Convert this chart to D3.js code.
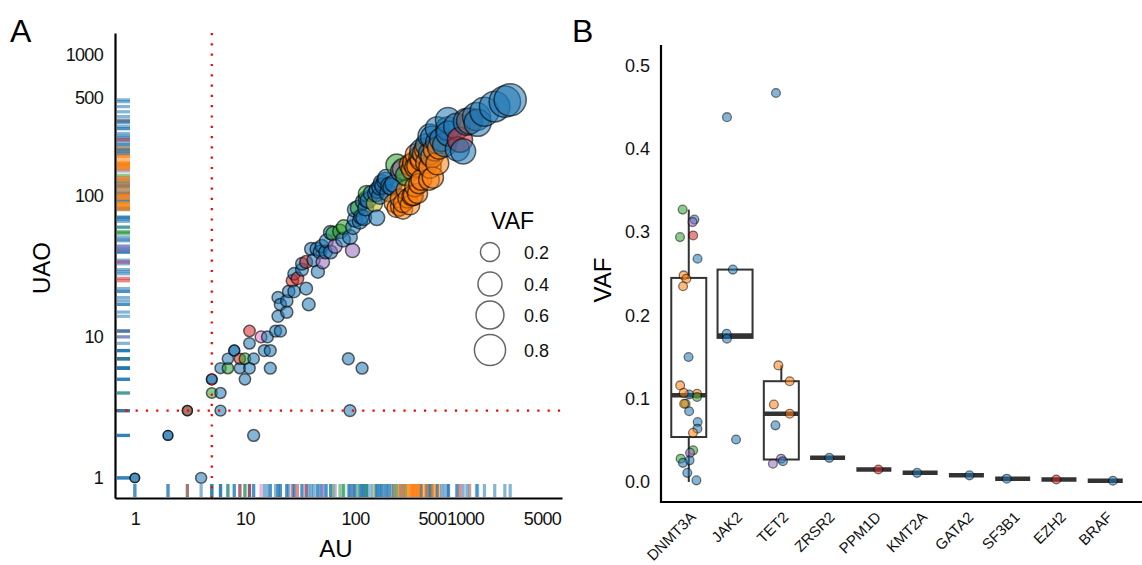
<!DOCTYPE html>
<html>
<head>
<meta charset="utf-8">
<script src="https://cdn.jsdelivr.net/npm/d3@7"></script>
<style>
  html, body { margin: 0; padding: 0; background: #fff; }
  svg { display: block; font-family: "Liberation Sans", Arial, Helvetica, sans-serif; }
</style>
</head>
<body>
<svg id="chart" width="1142" height="565"></svg>
<script>
// ---------- Panel A: allele read counts per variant ----------
// AU = alternate reads, UAO = unique alternate observations, VAF = allele fraction
const auValues = [
  1, 1, 2, 2, 3, 3, 4, 5, 5, 5,
  6, 6, 6, 7, 7, 8, 8, 9, 9, 10,
  10, 11, 11, 11, 12, 12, 14, 15, 16, 17,
  17, 19, 20, 20, 21, 21, 24, 24, 25, 27,
  28, 28, 30, 33, 33, 36, 36, 38, 40, 42,
  45, 46, 48, 50, 51, 54, 55, 60, 60, 63,
  66, 73, 78, 79, 87, 90, 90, 95, 96, 100,
  100, 107, 111, 114, 116, 119, 120, 125, 127, 127,
  132, 142, 150, 155, 158, 160, 168, 169, 175, 180,
  188, 193, 200, 205, 215, 223, 225, 238, 239, 255,
  255, 260, 273, 273, 273, 290, 290, 300, 316, 316,
  330, 330, 339, 339, 350, 355, 360, 370, 370, 380,
  390, 400, 400, 400, 420, 440, 450, 450, 470, 480,
  480, 480, 500, 500, 510, 531, 560, 560, 560, 580,
  613, 650, 700, 700, 708, 840, 850, 900, 960, 1040,
  1100, 1270, 1300, 1500, 1860, 2300, 2570
];
const uaoValues = [
  1, 1, 2, 2, 3, 3, 1, 4, 5, 5,
  3, 4, 6, 6, 7, 8, 8, 6, 7, 5,
  7, 6, 9, 11, 2, 7, 10, 8, 10, 6,
  8, 11, 14, 19, 11, 17, 15, 18, 21, 25,
  21, 28, 26, 30, 33, 22, 34, 17, 42, 35,
  42, 29, 40, 44, 34, 40, 48, 40, 55, 54,
  44, 56, 49, 60, 7, 3, 51, 41, 60, 68,
  80, 82, 66, 71, 6, 91, 70, 82, 95, 104,
  93, 104, 88, 104, 70, 110, 100, 116, 124, 118,
  128, 134, 105, 118, 116, 89, 122, 82, 166, 84,
  96, 150, 80, 89, 155, 110, 140, 96, 86, 166,
  100, 155, 101, 171, 116, 160, 196, 104, 163, 122,
  190, 130, 180, 210, 200, 215, 172, 230, 130, 160,
  200, 266, 190, 260, 135, 213, 170, 240, 300, 220,
  251, 230, 300, 345, 277, 311, 215, 250, 207, 336,
  340, 365, 330, 395, 430, 466, 480
];
const vafValues = [
  0.003, 0.003, 0.004, 0.004, 0.006, 0.006, 0.012, 0.010, 0.010, 0.010,
  0.012, 0.012, 0.012, 0.014, 0.014, 0.012, 0.012, 0.014, 0.014, 0.015,
  0.016, 0.016, 0.016, 0.016, 0.020, 0.016, 0.018, 0.020, 0.020, 0.020,
  0.020, 0.020, 0.022, 0.022, 0.022, 0.022, 0.024, 0.024, 0.025, 0.026,
  0.026, 0.028, 0.028, 0.030, 0.030, 0.030, 0.032, 0.030, 0.035, 0.035,
  0.040, 0.035, 0.040, 0.040, 0.040, 0.040, 0.045, 0.045, 0.050, 0.050,
  0.050, 0.055, 0.060, 0.060, 0.020, 0.020, 0.060, 0.050, 0.060, 0.070,
  0.070, 0.080, 0.070, 0.070, 0.020, 0.080, 0.080, 0.080, 0.090, 0.090,
  0.090, 0.100, 0.090, 0.100, 0.080, 0.100, 0.100, 0.100, 0.100, 0.100,
  0.110, 0.120, 0.110, 0.110, 0.120, 0.150, 0.120, 0.160, 0.250, 0.150,
  0.160, 0.200, 0.170, 0.170, 0.240, 0.180, 0.220, 0.170, 0.180, 0.240,
  0.200, 0.250, 0.200, 0.250, 0.200, 0.250, 0.260, 0.200, 0.250, 0.200,
  0.270, 0.220, 0.260, 0.300, 0.280, 0.300, 0.280, 0.300, 0.220, 0.280,
  0.300, 0.350, 0.280, 0.300, 0.240, 0.300, 0.300, 0.320, 0.350, 0.300,
  0.350, 0.340, 0.350, 0.400, 0.400, 0.450, 0.350, 0.400, 0.400, 0.500,
  0.450, 0.550, 0.500, 0.600, 0.700, 0.750, 0.800
];
// colour group of each variant (index into the palette)
const groupA = [
  0, 0, 0, 0, 5, 5, 0, 2, 0, 0,
  0, 0, 0, 2, 0, 0, 0, 0, 3, 0,
  2, 0, 0, 3, 0, 0, 6, 0, 0, 0,
  0, 0, 0, 0, 0, 0, 0, 0, 0, 3,
  0, 0, 3, 0, 0, 0, 3, 0, 0, 0,
  0, 0, 0, 0, 4, 0, 0, 0, 0, 2,
  4, 2, 0, 2, 0, 0, 0, 4, 0, 0,
  0, 2, 0, 0, 0, 0, 0, 0, 0, 2,
  0, 0, 8, 0, 0, 0, 0, 0, 0, 0,
  0, 0, 0, 0, 0, 1, 0, 1, 2, 1,
  1, 4, 1, 1, 7, 1, 2, 1, 1, 1,
  1, 1, 1, 1, 1, 1, 1, 1, 1, 1,
  1, 1, 1, 0, 1, 1, 1, 0, 1, 1,
  0, 0, 1, 0, 1, 1, 1, 0, 0, 1,
  0, 0, 0, 0, 0, 0, 0, 3, 0, 0,
  5, 0, 0, 0, 0, 0, 0
];
const auTicks = [1, 10, 100, 500, 1000, 5000];
const uaoTicks = [1, 10, 100, 500, 1000];
const auCutoff = 5;
const uaoCutoff = 3;
const legendVaf = [0.2, 0.4, 0.6, 0.8];

// ---------- Panel B: VAF per gene ----------
const genes = ["DNMT3A", "JAK2", "TET2", "ZRSR2", "PPM1D", "KMT2A", "GATA2", "SF3B1", "EZH2", "BRAF"];
const boxLower = [0.000, 0.173, 0.027, 0.029, 0.015, 0.011, 0.008, 0.004, 0.003, 0.0015];
const boxQ1    = [0.054, 0.173, 0.027, 0.029, 0.015, 0.011, 0.008, 0.004, 0.003, 0.0015];
const boxMed   = [0.104, 0.176, 0.082, 0.029, 0.015, 0.011, 0.008, 0.004, 0.003, 0.0015];
const boxQ3    = [0.245, 0.255, 0.121, 0.029, 0.015, 0.011, 0.008, 0.004, 0.003, 0.0015];
const boxUpper = [0.327, 0.255, 0.140, 0.029, 0.015, 0.011, 0.008, 0.004, 0.003, 0.0015];
const vafGene = [
  0, 0, 0, 0, 0, 0, 0, 0, 0, 0,
  0, 0, 0, 0, 0, 0, 0, 0, 0, 0,
  0, 0, 0, 0, 0, 0, 0, 0,
  1, 1, 1, 1, 1,
  2, 2, 2, 2, 2, 2, 2, 2, 2,
  3, 4, 5, 6, 7, 8, 9
];
const vafPoint = [
  0.327, 0.315, 0.312, 0.296, 0.294, 0.268, 0.248, 0.244, 0.235, 0.150,
  0.116, 0.106, 0.105, 0.107, 0.102, 0.094, 0.094, 0.085, 0.072, 0.064,
  0.059, 0.038, 0.035, 0.026, 0.028, 0.023, 0.011, 0.002,
  0.438, 0.255, 0.178, 0.172, 0.051,
  0.467, 0.140, 0.121, 0.093, 0.082, 0.068, 0.028, 0.022, 0.025,
  0.029, 0.015, 0.011, 0.008, 0.004, 0.003, 0.0015
];
const vafGroup = [
  2, 0, 4, 3, 2, 0, 1, 1, 1, 0,
  1, 1, 0, 1, 2, 2, 1, 0, 0, 0,
  1, 2, 4, 0, 2, 0, 0, 0,
  0, 0, 0, 0, 0,
  0, 1, 1, 1, 1, 0, 4, 4, 0,
  0, 3, 0, 0, 0, 3, 0
];

const palette = ["#1f77b4", "#ff7f0e", "#2ca02c", "#d62728", "#9467bd",
                 "#8c564b", "#e377c2", "#7f7f7f", "#bcbd22"];

const svg = d3.select("#chart");

// ===== Panel A =====
const gA = svg.append("g");
const xA = d3.scaleLog().domain([0.66, 7600]).range([115, 562]);
const yA = d3.scaleLog().domain([0.72, 1430]).range([498, 33]);
const rA = d3.scaleSqrt().domain([0, 1]).range([4, 17.5]);

const variants = auValues.map((au, i) => ({
  au, uao: uaoValues[i], vaf: vafValues[i], grp: groupA[i]
}));

// rugs
gA.append("g").selectAll("line").data(variants).join("line")
  .attr("x1", 117).attr("x2", 130)
  .attr("y1", d => yA(d.uao)).attr("y2", d => yA(d.uao))
  .attr("stroke", d => palette[d.grp]).attr("stroke-opacity", 0.55)
  .attr("stroke-width", 3.2);
gA.append("g").selectAll("line").data(variants).join("line")
  .attr("y1", 484).attr("y2", 497)
  .attr("x1", d => xA(d.au)).attr("x2", d => xA(d.au))
  .attr("stroke", d => palette[d.grp]).attr("stroke-opacity", 0.55)
  .attr("stroke-width", 3.2);

// points
gA.append("g").selectAll("circle").data(variants).join("circle")
  .attr("cx", d => xA(d.au)).attr("cy", d => yA(d.uao))
  .attr("r", d => rA(d.vaf))
  .attr("fill", d => palette[d.grp]).attr("fill-opacity", 0.55)
  .attr("stroke", "#000").attr("stroke-opacity", 0.6).attr("stroke-width", 1.5);

// cutoff lines
gA.append("line")
  .attr("x1", xA(auCutoff)).attr("x2", xA(auCutoff))
  .attr("y1", 33).attr("y2", 498)
  .attr("stroke", "#ff0000").attr("stroke-width", 2.2).attr("stroke-dasharray", "2.2,8.1");
gA.append("line")
  .attr("x1", 115).attr("x2", 562)
  .attr("y1", yA(uaoCutoff)).attr("y2", yA(uaoCutoff))
  .attr("stroke", "#ff0000").attr("stroke-width", 2.2).attr("stroke-dasharray", "2.2,8.1");

// axes
const axA_x = gA.append("g").attr("transform", "translate(0,498)")
  .call(d3.axisBottom(xA).tickValues(auTicks).tickFormat(d3.format("d")).tickSize(0).tickPadding(14));
const axA_y = gA.append("g").attr("transform", "translate(115,0)")
  .call(d3.axisLeft(yA).tickValues(uaoTicks).tickFormat(d3.format("d")).tickSize(0).tickPadding(12));
[axA_x, axA_y].forEach(ax => {
  ax.select(".domain").attr("stroke", "#000").attr("stroke-width", 2.2);
  ax.selectAll("text").attr("font-size", 18).attr("fill", "#111")
    .attr("font-family", "Liberation Sans, Arial, sans-serif").style("letter-spacing", "-0.7px");
});

gA.append("text").attr("x", 336).attr("y", 557).attr("text-anchor", "middle")
  .attr("font-size", 24).text("AU");
gA.append("text").attr("transform", "translate(50,268) rotate(-90)")
  .attr("text-anchor", "middle").attr("font-size", 24).text("UAO");
gA.append("text").attr("x", 10).attr("y", 42).attr("font-size", 32).text("A");

// size legend
const legA = gA.append("g");
legA.append("text").attr("x", 491).attr("y", 229).attr("font-size", 23).text("VAF");
const legY = [252, 284, 315, 350];
legendVaf.forEach((v, i) => {
  legA.append("circle").attr("cx", 490).attr("cy", legY[i]).attr("r", rA(v) - 0.5)
    .attr("fill", "none").attr("stroke", "#666").attr("stroke-width", 1.5);
  legA.append("text").attr("x", 524).attr("y", legY[i] + 6.5).attr("font-size", 18)
    .attr("fill", "#111").text(v.toFixed(1));
});

// ===== Panel B =====
const gB = svg.append("g");
const xB = d3.scalePoint().domain(genes).range([661, 1133]).padding(0.6);
const yB = d3.scaleLinear().domain([-0.024, 0.5246]).range([502, 45]);
const boxW = 35;

genes.forEach((g, i) => {
  const cx = xB(g);
  const grp = gB.append("g");
  grp.append("line").attr("x1", cx).attr("x2", cx)
    .attr("y1", yB(boxQ3[i])).attr("y2", yB(boxUpper[i]))
    .attr("stroke", "#333").attr("stroke-width", 2);
  grp.append("line").attr("x1", cx).attr("x2", cx)
    .attr("y1", yB(boxQ1[i])).attr("y2", yB(boxLower[i]))
    .attr("stroke", "#333").attr("stroke-width", 2);
  grp.append("rect").attr("x", cx - boxW / 2).attr("width", boxW)
    .attr("y", yB(boxQ3[i])).attr("height", yB(boxQ1[i]) - yB(boxQ3[i]))
    .attr("fill", "#fff").attr("stroke", "#333").attr("stroke-width", 2);
  grp.append("line").attr("x1", cx - boxW / 2).attr("x2", cx + boxW / 2)
    .attr("y1", yB(boxMed[i])).attr("y2", yB(boxMed[i]))
    .attr("stroke", "#333").attr("stroke-width", 4.5);
});

// jittered points
const jitter = d3.randomUniform.source(d3.randomLcg(0.137))(-9, 9);
const vafRows = vafPoint.map((v, i) => ({ gene: genes[vafGene[i]], v, grp: vafGroup[i], dx: jitter() }));
gB.append("g").selectAll("circle").data(vafRows).join("circle")
  .attr("cx", d => xB(d.gene) + d.dx).attr("cy", d => yB(d.v)).attr("r", 4.4)
  .attr("fill", d => palette[d.grp]).attr("fill-opacity", 0.55)
  .attr("stroke", "#000").attr("stroke-opacity", 0.5).attr("stroke-width", 1.3);

// axes
gB.append("line").attr("x1", 661).attr("x2", 661).attr("y1", 45).attr("y2", 503)
  .attr("stroke", "#000").attr("stroke-width", 2.2);
gB.append("line").attr("x1", 660).attr("x2", 1142).attr("y1", 502).attr("y2", 502)
  .attr("stroke", "#000").attr("stroke-width", 2.2);
const axB_y = gB.append("g").attr("transform", "translate(661,0)")
  .call(d3.axisLeft(yB).tickValues([0, 0.1, 0.2, 0.3, 0.4, 0.5]).tickFormat(d3.format(".1f")).tickSize(0).tickPadding(11));
axB_y.select(".domain").remove();
axB_y.selectAll("text").attr("font-size", 18).attr("fill", "#111")
  .attr("font-family", "Liberation Sans, Arial, sans-serif");

gB.append("g").selectAll("text").data(genes).join("text")
  .attr("transform", d => `translate(${xB(d) + 8},518) rotate(-45)`)
  .attr("text-anchor", "end").attr("font-size", 15).attr("fill", "#111")
  .text(d => d);

gB.append("text").attr("transform", "translate(611,280) rotate(-90)")
  .attr("text-anchor", "middle").attr("font-size", 24).text("VAF");
gB.append("text").attr("x", 572).attr("y", 42).attr("font-size", 32).text("B");
</script>
</body>
</html>
